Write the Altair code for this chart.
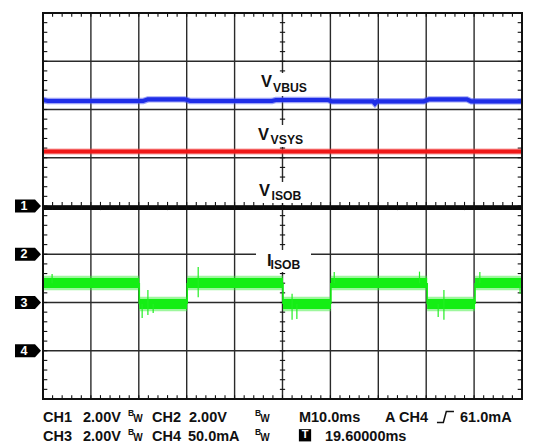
import altair as alt
import pandas as pd
import numpy as np

# ---- data, in scope divisions (x: 0..10, y: 0..8) ----
blue_x = [0.0, 0.10, 2.09, 2.19, 2.96, 3.07, 4.78, 4.86, 5.95, 6.03, 6.89, 6.93, 6.97, 7.95, 8.06, 8.85, 8.94, 10.0]
blue_y = [6.197, 6.176, 6.176, 6.21, 6.21, 6.176, 6.176, 6.197, 6.197, 6.17, 6.17, 6.125, 6.17, 6.17, 6.21, 6.21, 6.17, 6.17]
red_x = [0.0, 10.0]
red_y = [5.13, 5.13]
black_x = [0.0, 10.0]
black_y = [3.965, 3.965]

green_x0 = [0.0, 2.01, 3.01, 5.01, 6.01, 8.02, 9.02]
green_x1 = [2.01, 3.01, 5.01, 6.01, 8.02, 9.02, 10.0]
green_level = [2.404, 1.969, 2.404, 1.969, 2.404, 1.969, 2.404]
edge_x = [0.0, 2.01, 3.01, 5.01, 6.01, 8.02, 9.02]
edge_lo = [1.845, 1.969, 1.969, 1.969, 1.969, 1.969, 1.969]
edge_hi = [2.404] * 7
spike_x = [0.19, 2.07, 2.19, 2.30, 3.24, 5.20, 5.30, 6.08, 7.86, 8.25, 8.37, 9.12, 9.96]
spike_lo = [2.40, 1.68, 1.74, 1.78, 2.11, 1.64, 1.66, 2.40, 2.40, 1.70, 1.64, 2.40, 2.18]
spike_hi = [2.59, 1.97, 2.26, 1.97, 2.736, 2.18, 1.97, 2.63, 2.64, 1.97, 2.26, 2.63, 2.40]

lab_main = ["V", "V", "V", "I"]
lab_sub = ["VBUS", "VSYS", "ISOB", "ISOB"]
lab_main_x = [4.551, 4.489, 4.510, 4.676]
lab_main_y = [6.456, 5.378, 4.197, 2.756]
lab_sub_x = [4.803, 4.752, 4.772, 4.750]
lab_sub_y = [6.353, 5.285, 4.114, 2.700]
lab_bg_y0 = [6.28, 5.223, 4.062, 2.632]
lab_bg_y1 = [6.757, 5.679, 4.497, 3.088]

ch_names = ["1", "2", "3", "4"]
ch_pos = [4.0, 3.0, 2.0, 1.0]

line1 = -0.487
line2 = -0.872
info_text = ["CH1", "2.00V", "CH2", "2.00V", "M10.0ms", "A CH4", "61.0mA",
             "CH3", "2.00V", "CH4", "50.0mA", "19.60000ms"]
info_x = [0.0, 0.835, 2.276, 3.048, 5.344, 7.14, 8.706,
          0.0, 0.835, 2.276, 3.027, 5.887]
info_y = [line1] * 7 + [line2] * 5
bw_x = [1.775, 4.426, 1.775, 4.426]
bw_line = [line1, line1, line2, line2]

# ---- scales ----
XS = alt.Scale(domain=[0, 10], nice=False, zero=False)
YS = alt.Scale(domain=[0, 8], nice=False, zero=False)


def X(f="x"):
    return alt.X(f"{f}:Q", scale=XS, axis=None)


def Y(f="y"):
    return alt.Y(f"{f}:Q", scale=YS, axis=None)


def seg_layer(df, **kw):
    return alt.Chart(df).mark_rule(**kw).encode(
        x=X("x"), x2="x2", y=Y("y"), y2="y2")


# grid
grid_rows = [dict(x=i, x2=i, y=0, y2=8) for i in range(1, 10)]
grid_rows += [dict(x=0, x2=10, y=j, y2=j) for j in range(1, 8)]
grid = seg_layer(pd.DataFrame(grid_rows), color="#2a2a2a", strokeWidth=1.4)

# minor ticks
tx = [round(v, 2) for v in np.arange(0.2, 10, 0.2)]
ty = [round(v, 2) for v in np.arange(0.2, 8, 0.2)]
tk = []
tk_c = []
for v in tx:
    tk.append(dict(x=v, x2=v, y=8, y2=8 - 0.08))
    tk.append(dict(x=v, x2=v, y=0, y2=0.08))
    tk_c.append(dict(x=v, x2=v, y=4 - 0.085, y2=4 + 0.085))
for v in ty:
    tk.append(dict(x=0, x2=0.09, y=v, y2=v))
    tk.append(dict(x=10, x2=9.91, y=v, y2=v))
    tk.append(dict(x=5 - 0.055, x2=5 + 0.055, y=v, y2=v))
ticks = seg_layer(pd.DataFrame(tk), color="#111", strokeWidth=1.1)
ticks_c = seg_layer(pd.DataFrame(tk_c), color="#111", strokeWidth=1.1)

frame = alt.Chart(pd.DataFrame([dict(x=0, x2=10, y=0, y2=8)])).mark_rect(
    fill=None, stroke="#111", strokeWidth=2).encode(x=X("x"), x2="x2", y=Y("y"), y2="y2")

labdf = pd.DataFrame(dict(main=lab_main, sub=lab_sub, mx=lab_main_x, my=lab_main_y,
                          sx=lab_sub_x, sy=lab_sub_y, b0=lab_bg_y0, b1=lab_bg_y1,
                          bx0=[4.447] * 4, bx1=[5.595] * 4))
lab_bg = alt.Chart(labdf).mark_rect(fill="white").encode(
    x=X("bx0"), x2="bx1", y=Y("b0"), y2="b1")
lab_main_t = alt.Chart(labdf).mark_text(
    align="left", baseline="alphabetic", font="Liberation Sans", fontWeight="bold",
    fontSize=16.5, color="#111").encode(x=X("mx"), y=Y("my"), text="main:N")
lab_sub_t = alt.Chart(labdf).mark_text(
    align="left", baseline="alphabetic", font="Liberation Sans", fontWeight="bold",
    fontSize=12.2, color="#111").encode(x=X("sx"), y=Y("sy"), text="sub:N")

# traces
blue_fz = alt.Chart(pd.DataFrame(dict(x=blue_x, y=blue_y))).mark_line(
    color="#4a55f0", strokeWidth=6.4, opacity=0.55).encode(x=X(), y=Y())
blue = alt.Chart(pd.DataFrame(dict(x=blue_x, y=blue_y))).mark_line(
    color="#1f2ee8", strokeWidth=4.2).encode(x=X(), y=Y())
red_fz = alt.Chart(pd.DataFrame(dict(x=red_x, y=red_y))).mark_line(
    color="#f24a4a", strokeWidth=6.0, opacity=0.5).encode(x=X(), y=Y())
red = alt.Chart(pd.DataFrame(dict(x=red_x, y=red_y))).mark_line(
    color="#f01818", strokeWidth=4.0).encode(x=X(), y=Y())
black = alt.Chart(pd.DataFrame(dict(x=black_x, y=black_y))).mark_line(
    color="#0a0a0a", strokeWidth=4.4).encode(x=X(), y=Y())

gdf = pd.DataFrame(dict(x0=green_x0, x1=green_x1, lv=green_level))
gdf["c0"] = gdf.lv - 0.104
gdf["c1"] = gdf.lv + 0.104
gdf["f0"] = gdf.lv - 0.15
gdf["f1"] = gdf.lv + 0.15
g_fuzz = alt.Chart(gdf).mark_rect(fill="#3cf03c", opacity=0.5).encode(
    x=X("x0"), x2="x1", y=Y("f0"), y2="f1")
g_core = alt.Chart(gdf).mark_rect(fill="#14ee14").encode(
    x=X("x0"), x2="x1", y=Y("c0"), y2="c1")
g_edge = seg_layer(pd.DataFrame(dict(x=edge_x, x2=edge_x, y=edge_lo, y2=edge_hi)),
                   color="#14ee14", strokeWidth=1.6)
g_spk = seg_layer(pd.DataFrame(dict(x=spike_x, x2=spike_x, y=spike_lo, y2=spike_hi)),
                  color="#22ee22", strokeWidth=1.2)

# channel markers
chdf = pd.DataFrame(dict(name=ch_names, y=ch_pos, x=[-0.313] * 4, tx=[-0.397] * 4))
ch_mark = alt.Chart(chdf).mark_point(
    shape="M-1,-0.5L0.54,-0.5L1,0L0.54,0.5L-1,0.5Z", size=676, filled=True,
    fill="#000", stroke=None, opacity=1).encode(x=X(), y=Y())
ch_text = alt.Chart(chdf).mark_text(
    align="center", baseline="middle", font="Liberation Sans", fontWeight="bold",
    fontSize=12.5, color="white").encode(x=X("tx"), y=Y(), text="name:N")

# bottom info
idf = pd.DataFrame(dict(t=info_text, x=info_x, y=info_y))
info = alt.Chart(idf).mark_text(
    align="left", baseline="alphabetic", font="Liberation Sans", fontWeight="bold",
    fontSize=14.5, color="#111").encode(x=X(), y=Y(), text="t:N")
bdf = pd.DataFrame(dict(x=bw_x, y=[v + 0.135 for v in bw_line], t=["B"] * 4))
wdf = pd.DataFrame(dict(x=[v + 0.11 for v in bw_x], y=bw_line, t=["W"] * 4))
bw_b = alt.Chart(bdf).mark_text(
    align="left", baseline="alphabetic", font="Liberation Sans", fontWeight="bold",
    fontSize=8.5, color="#111").encode(x=X(), y=Y(), text="t:N")
bw_w = alt.Chart(wdf).mark_text(
    align="left", baseline="alphabetic", font="Liberation Sans", fontWeight="bold",
    fontSize=10, color="#111").encode(x=X(), y=Y(), text="t:N")

trig = alt.Chart(pd.DataFrame(dict(x=[8.402], y=[line1 + 0.114]))).mark_point(
    shape="M-1,0.65L-0.25,0.65L0.1,-0.65L1,-0.65", size=289, filled=False,
    stroke="#111", strokeWidth=1.5, opacity=1).encode(x=X(), y=Y())
tbox = alt.Chart(pd.DataFrame(dict(x=[5.47], y=[line2 + 0.12]))).mark_point(
    shape="square", size=150, filled=True, fill="#000", stroke=None, opacity=1
).encode(x=X(), y=Y())
ttext = alt.Chart(pd.DataFrame(dict(x=[5.47], y=[line2 + 0.12], t=["T"]))).mark_text(
    align="center", baseline="middle", font="Liberation Sans", fontWeight="bold",
    fontSize=11, color="white").encode(x=X(), y=Y(), text="t:N")

chart = alt.layer(
    grid, ticks,
    blue_fz, blue, red_fz, red, black, g_fuzz, g_core, g_edge, g_spk,
    ticks_c, frame, lab_bg,
    lab_main_t, lab_sub_t, ch_mark, ch_text,
    info, bw_b, bw_w, trig, tbox, ttext
).properties(
    width=479, height=386,
    autosize=alt.AutoSizeParams(type="none"),
    padding={"left": 35, "top": 5, "right": 14, "bottom": 45},
    background="white"
).configure_view(strokeWidth=0)

chart.save("out.html", embed_options={"renderer": "svg", "actions": False})
